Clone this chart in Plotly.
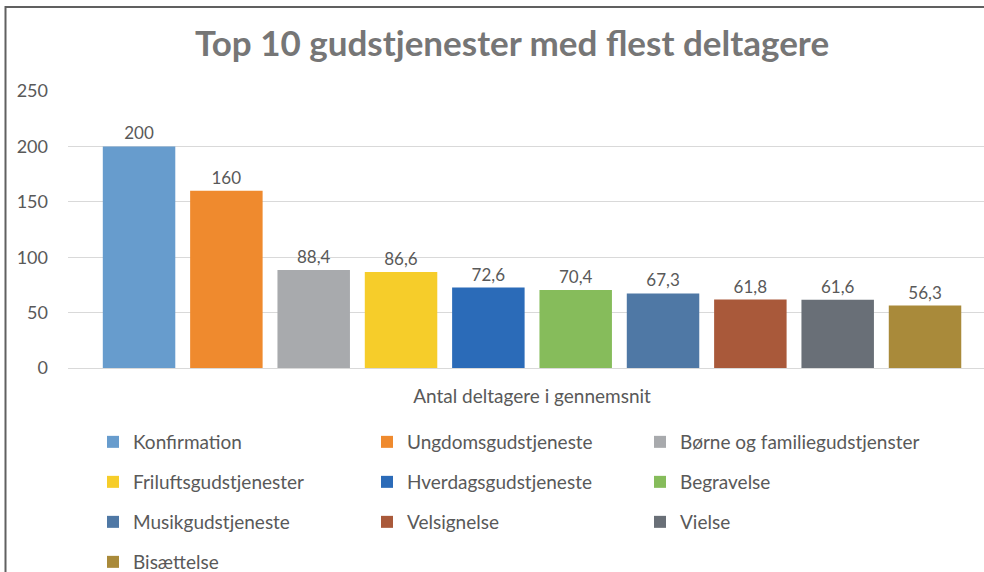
import plotly.graph_objects as go

categories = ["Konfirmation", "Ungdomsgudstjeneste", "Børne og familiegudstjenster",
              "Friluftsgudstjenester", "Hverdagsgudstjeneste", "Begravelse",
              "Musikgudstjeneste", "Velsignelse", "Vielse", "Bisættelse"]
values = [200, 160, 88.4, 86.6, 72.6, 70.4, 67.3, 61.8, 61.6, 56.3]
colors = ["#679CCD", "#EF8A2E", "#A8AAAD", "#F6CD2A", "#2B6BB8",
          "#86BC5B", "#4F78A5", "#A9593A", "#696F77", "#A98A3A"]
group_label = ["Antal deltagere i gennemsnit"]
y_ticks = [0, 50, 100, 150, 200, 250]

FONT = "Lato"
GRAY = "#595959"

W, H = 984, 600          # page window is 984x572; bottom part is cropped
PL, PT, PB = 68, 91, 368  # plot area left, top, bottom in pixels
PW, PH = W - PL, PB - PT

def px_y(py):
    return (PB - py) / PH
def px_x(px):
    return (px - PL) / PW

col_x = [93, 367, 640]
row_y = [442, 482, 522, 562]

fig = go.Figure()
legend_layouts = {}
for i, (name, v, c) in enumerate(zip(categories, values, colors)):
    lid = "legend" if i == 0 else f"legend{i + 1}"
    fig.add_trace(go.Bar(
        x=group_label, y=[v], name=name,
        marker=dict(color=c, line=dict(width=0)),
        text=[f"{v:g}".replace(".", ",")],
        textposition="outside",
        textfont=dict(size=17, color=GRAY, family=FONT),
        cliponaxis=False,
        showlegend=True,
        legend=lid,
    ))
    legend_layouts[lid] = dict(
        x=px_x(col_x[i % 3]), y=px_y(row_y[i // 3]),
        xanchor="left", yanchor="middle", orientation="v",
        font=dict(size=19, color=GRAY, family=FONT),
        bgcolor="rgba(0,0,0,0)", itemclick=False, itemdoubleclick=False)

fig.update_layout(
    width=W, height=H,
    showlegend=True,
    margin=dict(l=PL, r=0, t=PT, b=H - PB),
    paper_bgcolor="white", plot_bgcolor="white",
    separators=", ",
    barmode="group", bargap=0.059, bargroupgap=0.17,
    title=dict(text="<b>Top 10 gudstjenester med flest deltagere</b>",
               x=512 / W, xanchor="center", y=1 - 44 / H, yanchor="middle",
               font=dict(size=35, color="#767676", family=FONT)),
    font=dict(family=FONT, color=GRAY),
    xaxis=dict(range=[-0.5, 0.487], showgrid=False, showline=False,
               ticks="", tickfont=dict(size=19, color=GRAY, family=FONT),
               ticklabelstandoff=15, zeroline=False),
    yaxis=dict(range=[0, 250], tickvals=y_ticks, showgrid=True,
               gridcolor="#D9D9D9", gridwidth=1, zeroline=True,
               zerolinecolor="#D9D9D9", zerolinewidth=1, showline=False,
               ticks="", tickfont=dict(size=18, color=GRAY, family=FONT),
               ticklabelstandoff=19),
    shapes=[dict(type="rect", xref="paper", yref="paper",
                 x0=px_x(5.5), x1=px_x(1100), y0=px_y(7), y1=px_y(800),
                 line=dict(color="#606060", width=2), fillcolor="rgba(0,0,0,0)",
                 layer="below")],
    **legend_layouts,
)

fig.write_html("out.html", config={"displayModeBar": False},
               post_script="document.body.style.margin='0';document.body.style.overflow='hidden';")
